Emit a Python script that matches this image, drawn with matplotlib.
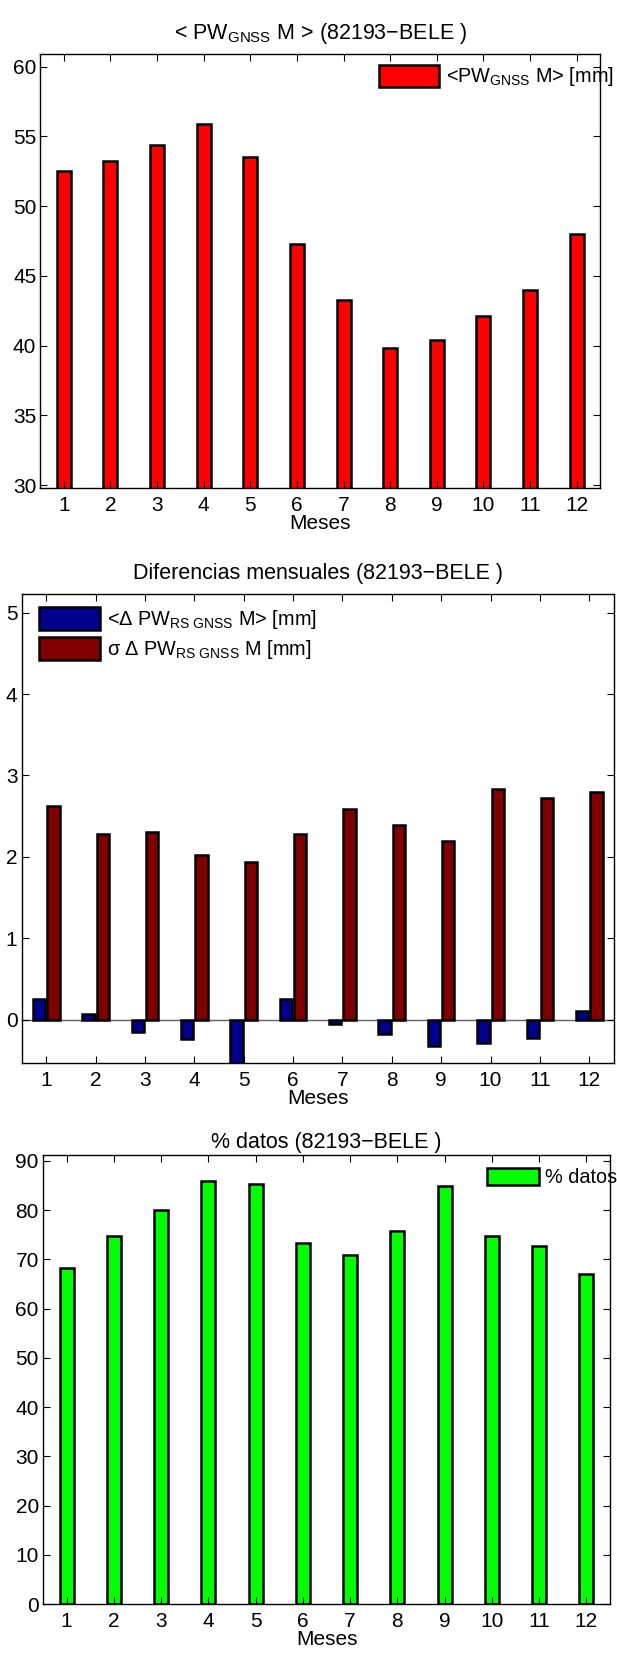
import matplotlib
matplotlib.use('Agg')
import matplotlib.pyplot as plt
import numpy as np

plt.rcParams['font.family'] = ['Liberation Sans', 'DejaVu Sans']
plt.rcParams['mathtext.fontset'] = 'custom'
plt.rcParams['mathtext.rm'] = 'Liberation Sans'
plt.rcParams['mathtext.it'] = 'Liberation Sans'

meses = np.arange(1, 13)
pw_gnss = [52.5, 53.2, 54.4, 55.9, 53.5, 47.3, 43.3, 39.8, 40.4, 42.1, 44.0, 48.0]
dif_media = [0.26, 0.07, -0.155, -0.24, -0.6, 0.26, -0.055, -0.18, -0.32, -0.29, -0.23, 0.11]
dif_sigma = [2.62, 2.28, 2.31, 2.02, 1.94, 2.28, 2.59, 2.39, 2.19, 2.83, 2.72, 2.80]
pct_datos = [68.2, 74.7, 80.0, 86.0, 85.4, 73.3, 70.9, 75.7, 84.9, 74.7, 72.7, 67.1]

fs = 15
tfs = 15.5
lfs = 14.3
lw = 1.8


def style(ax):
    ax.set_xlim(0.5, 12.5)
    ax.set_xticks(meses)
    ax.tick_params(direction='in', top=True, right=True, length=5,
                   labelsize=fs, width=0.8)
    ax.tick_params(axis='x', pad=6)
    ax.tick_params(axis='y', pad=3)
    for s in ax.spines.values():
        s.set_linewidth(1.0)
    ax.set_xlabel('Meses', fontsize=fs, labelpad=-1)


fig = plt.figure(figsize=(6.17, 16.53), dpi=100)

# panel 1
ax1 = fig.add_axes([0.0656, 0.7048, 0.9068, 0.2625])
ax1.bar(meses, pw_gnss, width=0.3, color='#ff0000', edgecolor='black',
        linewidth=lw, label=r'<PW$_{\mathrm{GNSS}}$ M> [mm]')
ax1.set_ylim(29.8, 60.9)
ax1.set_yticks([30, 35, 40, 45, 50, 55, 60])
style(ax1)
ax1.set_title(r'< PW$_{\mathrm{GNSS}}$ M > (82193−BELE )', fontsize=tfs, pad=11)
ax1.legend(loc='upper left', bbox_to_anchor=(0.605, 0.975), frameon=False,
           fontsize=lfs, borderpad=0, borderaxespad=0, handlelength=3.0,
           handleheight=1.3, handletextpad=0.35)

# panel 2
ax2 = fig.add_axes([0.035, 0.357, 0.96, 0.2837])
ax2.axhline(0, color='#606060', linewidth=1.0, zorder=1)
ax2.bar(meses - 0.145, dif_media, width=0.25, color='#00008f', edgecolor='black',
        linewidth=lw, label=r'<Δ PW$_{\mathrm{RS\ GNSS}}$ M> [mm]', zorder=2)
ax2.bar(meses + 0.145, dif_sigma, width=0.25, color='#800000', edgecolor='black',
        linewidth=lw, label=r'σ Δ PW$_{\mathrm{RS\ GNSS}}$ M [mm]', zorder=2)
ax2.set_ylim(-0.53, 5.23)
ax2.set_yticks([0, 1, 2, 3, 4, 5])
style(ax2)
ax2.set_title('Diferencias mensuales (82193−BELE )', fontsize=tfs, pad=11)
ax2.legend(loc='upper left', bbox_to_anchor=(0.029, 0.972), frameon=False,
           fontsize=lfs, borderpad=0, borderaxespad=0, handlelength=3.1,
           handleheight=1.4, handletextpad=0.35, labelspacing=0.3)

# panel 3
ax3 = fig.add_axes([0.0697, 0.0296, 0.919, 0.2717])
ax3.bar(meses, pct_datos, width=0.3, color='#00ff00', edgecolor='black',
        linewidth=lw, label='% datos')
ax3.set_ylim(0, 91.2)
ax3.set_yticks(np.arange(0, 91, 10))
style(ax3)
ax3.set_title('% datos (82193−BELE )', fontsize=tfs, pad=5)
ax3.legend(loc='upper left', bbox_to_anchor=(0.783, 0.972), frameon=False,
           fontsize=lfs, borderpad=0, borderaxespad=0, handlelength=2.6,
           handleheight=0.95, handletextpad=0.3)

fig.savefig('out.png', dpi=100)
